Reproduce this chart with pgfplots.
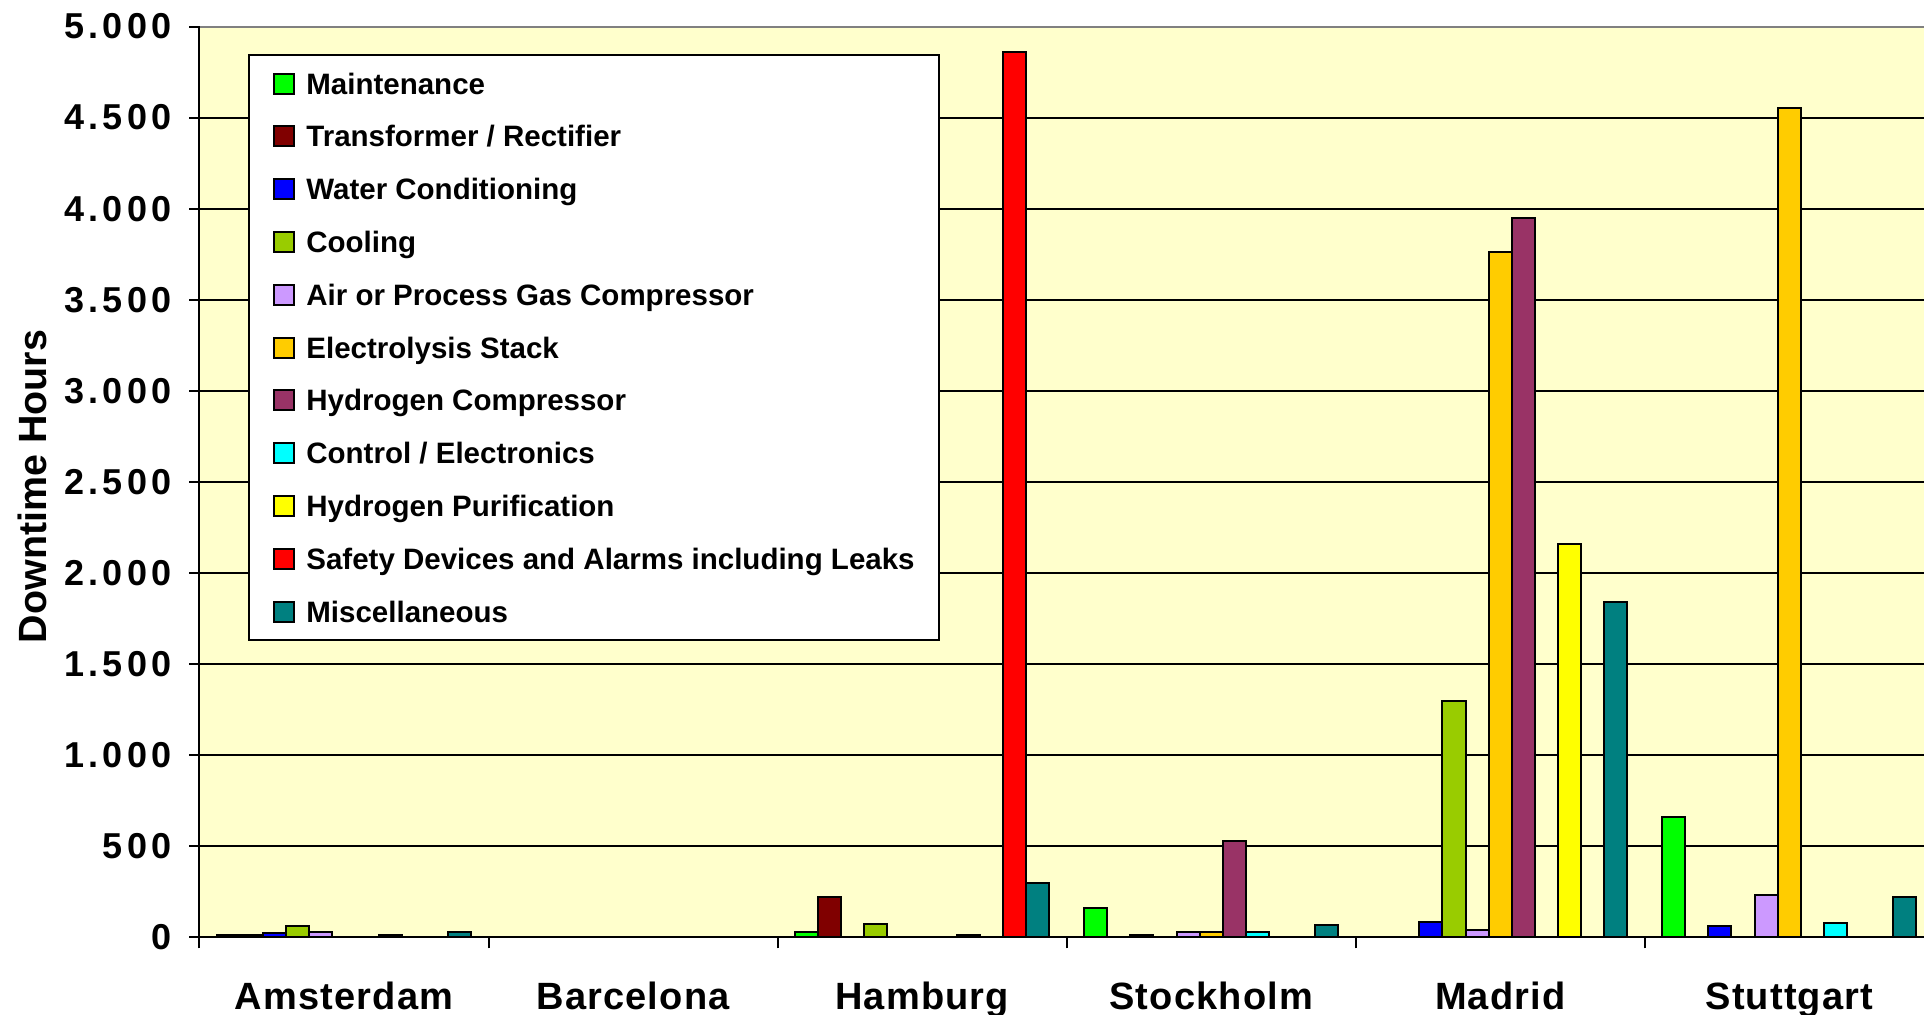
\documentclass[border=0pt]{standalone}
\usepackage{pgfplots}
\pgfplotsset{compat=1.18}
\usepackage{fontspec}
\setmainfont{Liberation Sans}

\definecolor{bgyellow}{HTML}{FFFFCC}
\definecolor{cMaint}{HTML}{00FF00}
\definecolor{cTrafo}{HTML}{800000}
\definecolor{cWater}{HTML}{0000FF}
\definecolor{cCool}{HTML}{99CC00}
\definecolor{cAir}{HTML}{CC99FF}
\definecolor{cStack}{HTML}{FFCC00}
\definecolor{cHcomp}{HTML}{993366}
\definecolor{cCtrl}{HTML}{00FFFF}
\definecolor{cPurif}{HTML}{FFFF00}
\definecolor{cSafety}{HTML}{FF0000}
\definecolor{cMisc}{HTML}{008080}

\begin{document}
\begin{tikzpicture}
\useasboundingbox (0,0) rectangle (962pt,507pt);
\begin{axis}[
  name=ax,
  at={(99.75pt,38.3pt)}, anchor=south west,
  scale only axis, width=862.25pt, height=455.45pt,
  xmin=-0.5, xmax=5.466, ymin=0, ymax=5000,
  ybar=0pt, bar width=0.08,
  axis background/.style={fill=bgyellow},
  axis x line*=bottom, axis y line*=left,
  axis line style={line width=1pt, -},
  tick align=outside,
  major tick length=5pt,
  minor tick length=5.5pt,
  tick style={black, line width=1pt},
  xtick={0,1,2,3,4,5},
  xticklabels={Amsterdam,Barcelona,Hamburg,Stockholm,Madrid,Stuttgart},
  major x tick style={draw=none},
  minor xtick={-0.5,0.5,1.5,2.5,3.5,4.5},
  ytick={0,500,...,5000},
  scaled y ticks=false,
  ymajorgrids,
  grid style={black, line width=1pt},
  /pgf/number format/assume math mode=true,
  yticklabel style={font=\fontsize{18pt}{20pt}\selectfont\bfseries\addfontfeature{LetterSpace=12},
    /pgf/number format/1000 sep={.}, inner sep=0pt, anchor=east, xshift=-8.85pt},
  xticklabel style={font=\fontsize{19pt}{21pt}\selectfont\bfseries\addfontfeature{LetterSpace=3},
    inner sep=0pt, anchor=base, yshift=-30.9pt},
  ylabel={Downtime Hours},
  ylabel style={font=\fontsize{19.7pt}{21pt}\selectfont\bfseries,
    at={(axis description cs:-0.0971,0.495)}, anchor=center, rotate=0},
  legend cell align=left,
  legend image code/.code={\draw[#1, line width=1pt] (0pt,-5pt) rectangle (10pt,5pt);},
  legend style={
    at={(axis description cs:0.02812,0.9698)}, anchor=north west,
    draw=black, line width=1pt, fill=white,
    font=\fontsize{14.75pt}{16pt}\selectfont\bfseries,
    inner xsep=12pt, inner ysep=6pt,
    row sep=9.9pt, column sep=5.7pt,
    nodes={inner sep=0pt, text height=13.5pt, text depth=3pt},
  },
  every axis plot/.append style={draw=black, line width=1pt},
]
% x: 0 Amsterdam, 1 Barcelona, 2 Hamburg, 3 Stockholm, 4 Madrid, 5 Stuttgart
\addplot[fill=cMaint]   coordinates {(0,12) (2,31) (3,160) (5,660)};
\addlegendentry{Maintenance}
\addplot[fill=cTrafo]   coordinates {(0,12) (2,222)};
\addlegendentry{Transformer / Rectifier}
\addplot[fill=cWater]   coordinates {(0,25) (3,15) (4,87) (5,60)};
\addlegendentry{Water Conditioning}
\addplot[fill=cCool]    coordinates {(0,60) (2,74) (4,1300)};
\addlegendentry{Cooling}
\addplot[fill=cAir]     coordinates {(0,30) (3,31) (4,40) (5,233)};
\addlegendentry{Air or Process Gas Compressor}
\addplot[fill=cStack]   coordinates {(3,31) (4,3760) (5,4555)};
\addlegendentry{Electrolysis Stack}
\addplot[fill=cHcomp]   coordinates {(3,530) (4,3950)};
\addlegendentry{Hydrogen Compressor}
\addplot[fill=cCtrl]    coordinates {(0,12) (2,15) (3,31) (5,78)};
\addlegendentry{Control / Electronics}
\addplot[fill=cPurif]   coordinates {(4,2160)};
\addlegendentry{Hydrogen Purification}
\addplot[fill=cSafety]  coordinates {(2,4860)};
\addlegendentry{Safety Devices and Alarms including Leaks}
\addplot[fill=cMisc]    coordinates {(0,30) (2,296) (3,69) (4,1840) (5,220)};
\addlegendentry{Miscellaneous}
\end{axis}
% plot-area border along the top edge
\draw[color={rgb,255:red,128;green,128;blue,128}, line width=1pt]
  (ax.north west) -- (ax.north east);
\end{tikzpicture}
\end{document}
